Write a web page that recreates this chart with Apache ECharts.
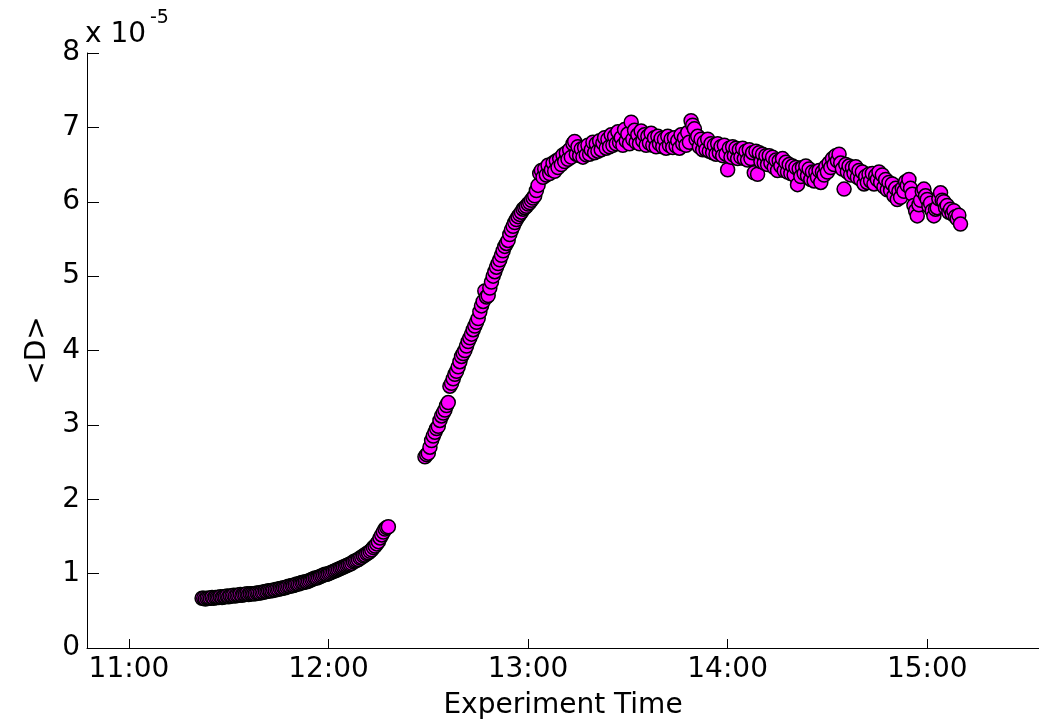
<!DOCTYPE html>
<html>
<head>
<meta charset="utf-8">
<script src="https://cdn.jsdelivr.net/npm/echarts@6/dist/echarts.min.js"></script>
<style>
  html, body { margin: 0; padding: 0; background: #ffffff; }
  #chart { width: 1039px; height: 725px; }
</style>
</head>
<body>
<div id="chart"></div>
<script>
// Mean displacement <D> (units of 1e-5), one sample every 30 s of experiment clock time.

// Early, slow-growth phase
const earlyTimes = [
  '11:22:00','11:22:30','11:23:00','11:23:30','11:24:00','11:24:30','11:25:00','11:25:30','11:26:00','11:26:30',
  '11:27:00','11:27:30','11:28:00','11:28:30','11:29:00','11:29:30','11:30:00','11:30:30','11:31:00','11:31:30',
  '11:32:00','11:32:30','11:33:00','11:33:30','11:34:00','11:34:30','11:35:00','11:35:30','11:36:00','11:36:30',
  '11:37:00','11:37:30','11:38:00','11:38:30','11:39:00','11:39:30','11:40:00','11:40:30','11:41:00','11:41:30',
  '11:42:00','11:42:30','11:43:00','11:43:30','11:44:00','11:44:30','11:45:00','11:45:30','11:46:00','11:46:30',
  '11:47:00','11:47:30','11:48:00','11:48:30','11:49:00','11:49:30','11:50:00','11:50:30','11:51:00','11:51:30',
  '11:52:00','11:52:30','11:53:00','11:53:30','11:54:00','11:54:30','11:55:00','11:55:30','11:56:00','11:56:30',
  '11:57:00','11:57:30','11:58:00','11:58:30','11:59:00','11:59:30','12:00:00','12:00:30','12:01:00','12:01:30',
  '12:02:00','12:02:30','12:03:00','12:03:30','12:04:00','12:04:30','12:05:00','12:05:30','12:06:00','12:06:30',
  '12:07:00','12:07:30','12:08:00','12:08:30','12:09:00','12:09:30','12:10:00','12:10:30','12:11:00','12:11:30',
  '12:12:00','12:12:30','12:13:00','12:13:30','12:14:00','12:14:30','12:15:00','12:15:30','12:16:00','12:16:30',
  '12:17:00','12:17:30','12:18:00'
];
const earlyD = [
  0.67, 0.67, 0.66, 0.67, 0.67, 0.67, 0.68, 0.67, 0.68, 0.68,
  0.68, 0.69, 0.68, 0.69, 0.69, 0.70, 0.69, 0.70, 0.70, 0.71,
  0.70, 0.71, 0.71, 0.72, 0.71, 0.72, 0.72, 0.73, 0.72, 0.73,
  0.73, 0.73, 0.73, 0.74, 0.74, 0.74, 0.75, 0.75, 0.76, 0.76,
  0.77, 0.77, 0.77, 0.78, 0.78, 0.79, 0.79, 0.80, 0.80, 0.81,
  0.81, 0.82, 0.83, 0.83, 0.84, 0.84, 0.85, 0.86, 0.86, 0.87,
  0.88, 0.88, 0.89, 0.89, 0.90, 0.91, 0.92, 0.93, 0.94, 0.94,
  0.95, 0.96, 0.97, 0.98, 0.99, 0.99, 1.00, 1.01, 1.02, 1.03,
  1.04, 1.05, 1.06, 1.07, 1.08, 1.09, 1.10, 1.11, 1.12, 1.13,
  1.14, 1.16, 1.17, 1.18, 1.19, 1.21, 1.22, 1.24, 1.25, 1.27,
  1.28, 1.30, 1.32, 1.35, 1.37, 1.40, 1.43, 1.48, 1.52, 1.56,
  1.60, 1.62, 1.63
];

// Steep rise, plateau and slow decline
const lateTimes = [
  '12:29:00','12:29:30','12:30:00','12:30:30','12:31:00','12:31:30','12:32:00','12:32:30','12:33:00','12:33:30',
  '12:34:00','12:34:30','12:35:00','12:35:30','12:36:00','12:36:30','12:37:00','12:37:30','12:38:00','12:38:30',
  '12:39:00','12:39:30','12:40:00','12:40:30','12:41:00','12:41:30','12:42:00','12:42:30','12:43:00','12:43:30',
  '12:44:00','12:44:30','12:45:00','12:45:30','12:46:00','12:46:30','12:47:00','12:47:30','12:48:00','12:48:30',
  '12:49:00','12:49:30','12:50:00','12:50:30','12:51:00','12:51:30','12:52:00','12:52:30','12:53:00','12:53:30',
  '12:54:00','12:54:30','12:55:00','12:55:30','12:56:00','12:56:30','12:57:00','12:57:30','12:58:00','12:58:30',
  '12:59:00','12:59:30','13:00:00','13:00:30','13:01:00','13:01:30','13:02:00','13:02:30','13:03:00','13:03:30',
  '13:04:00','13:04:30','13:05:00','13:05:30','13:06:00','13:06:30','13:07:00','13:07:30','13:08:00','13:08:30',
  '13:09:00','13:09:30','13:10:00','13:10:30','13:11:00','13:11:30','13:12:00','13:12:30','13:13:00','13:13:30',
  '13:14:00','13:14:30','13:15:00','13:15:30','13:16:00','13:16:30','13:17:00','13:17:30','13:18:00','13:18:30',
  '13:19:00','13:19:30','13:20:00','13:20:30','13:21:00','13:21:30','13:22:00','13:22:30','13:23:00','13:23:30',
  '13:24:00','13:24:30','13:25:00','13:25:30','13:26:00','13:26:30','13:27:00','13:27:30','13:28:00','13:28:30',
  '13:29:00','13:29:30','13:30:00','13:30:30','13:31:00','13:31:30','13:32:00','13:32:30','13:33:00','13:33:30',
  '13:34:00','13:34:30','13:35:00','13:35:30','13:36:00','13:36:30','13:37:00','13:37:30','13:38:00','13:38:30',
  '13:39:00','13:39:30','13:40:00','13:40:30','13:41:00','13:41:30','13:42:00','13:42:30','13:43:00','13:43:30',
  '13:44:00','13:44:30','13:45:00','13:45:30','13:46:00','13:46:30','13:47:00','13:47:30','13:48:00','13:48:30',
  '13:49:00','13:49:30','13:50:00','13:50:30','13:51:00','13:51:30','13:52:00','13:52:30','13:53:00','13:53:30',
  '13:54:00','13:54:30','13:55:00','13:55:30','13:56:00','13:56:30','13:57:00','13:57:30','13:58:00','13:58:30',
  '13:59:00','13:59:30','14:00:00','14:00:30','14:01:00','14:01:30','14:02:00','14:02:30','14:03:00','14:03:30',
  '14:04:00','14:04:30','14:05:00','14:05:30','14:06:00','14:06:30','14:07:00','14:07:30','14:08:00','14:08:30',
  '14:09:00','14:09:30','14:10:00','14:10:30','14:11:00','14:11:30','14:12:00','14:12:30','14:13:00','14:13:30',
  '14:14:00','14:14:30','14:15:00','14:15:30','14:16:00','14:16:30','14:17:00','14:17:30','14:18:00','14:18:30',
  '14:19:00','14:19:30','14:20:00','14:20:30','14:21:00','14:21:30','14:22:00','14:22:30','14:23:00','14:23:30',
  '14:24:00','14:24:30','14:25:00','14:25:30','14:26:00','14:26:30','14:27:00','14:27:30','14:28:00','14:28:30',
  '14:29:00','14:29:30','14:30:00','14:30:30','14:31:00','14:31:30','14:32:00','14:32:30','14:33:00','14:33:30',
  '14:34:00','14:34:30','14:35:00','14:35:30','14:36:00','14:36:30','14:37:00','14:37:30','14:38:00','14:38:30',
  '14:39:00','14:39:30','14:40:00','14:40:30','14:41:00','14:41:30','14:42:00','14:42:30','14:43:00','14:43:30',
  '14:44:00','14:44:30','14:45:00','14:45:30','14:46:00','14:46:30','14:47:00','14:47:30','14:48:00','14:48:30',
  '14:49:00','14:49:30','14:50:00','14:50:30','14:51:00','14:51:30','14:52:00','14:52:30','14:53:00','14:53:30',
  '14:54:00','14:54:30','14:55:00','14:55:30','14:56:00','14:56:30','14:57:00','14:57:30','14:58:00','14:58:30',
  '14:59:00','14:59:30','15:00:00','15:00:30','15:01:00','15:01:30','15:02:00','15:02:30','15:03:00','15:03:30',
  '15:04:00','15:04:30','15:05:00','15:05:30','15:06:00','15:06:30','15:07:00','15:07:30','15:08:00','15:08:30',
  '15:09:00','15:09:30','15:10:00'
];
const lateD = [
  2.57, 2.60, 2.62, 2.70, 2.79, 2.85, 2.90, 2.95, 2.98, 3.06,
  3.12, 3.16, 3.20, 3.26, 3.30, 3.52, 3.56, 3.62, 3.68, 3.72,
  3.78, 3.85, 3.92, 3.96, 4.00, 4.06, 4.12, 4.17, 4.22, 4.28,
  4.33, 4.38, 4.43, 4.52, 4.60, 4.66, 4.80, 4.72, 4.74, 4.84,
  4.92, 5.00, 5.06, 5.12, 5.17, 5.22, 5.28, 5.34, 5.40, 5.44,
  5.48, 5.56, 5.62, 5.67, 5.72, 5.76, 5.80, 5.83, 5.86, 5.90,
  5.92, 5.94, 5.97, 5.99, 6.02, 6.05, 6.08, 6.15, 6.22, 6.38,
  6.42, 6.33, 6.44, 6.36, 6.49, 6.38, 6.43, 6.52, 6.41, 6.55,
  6.46, 6.58, 6.50, 6.63, 6.54, 6.66, 6.57, 6.70, 6.60, 6.78,
  6.81, 6.64, 6.74, 6.62, 6.71, 6.60, 6.73, 6.63, 6.76, 6.64,
  6.70, 6.80, 6.66, 6.78, 6.68, 6.82, 6.70, 6.79, 6.86, 6.72,
  6.84, 6.74, 6.90, 6.76, 6.88, 6.78, 6.94, 6.80, 6.86, 6.76,
  6.97, 6.82, 6.91, 6.78, 7.07, 6.84, 6.96, 6.80, 6.90, 6.78,
  6.95, 6.82, 6.90, 6.76, 6.88, 6.79, 6.92, 6.76, 6.86, 6.74,
  6.88, 6.78, 6.85, 6.74, 6.84, 6.72, 6.88, 6.76, 6.84, 6.73,
  6.86, 6.75, 6.82, 6.72, 6.90, 6.78, 6.86, 6.76, 6.93, 6.80,
  7.09, 7.03, 6.98, 6.84, 6.88, 6.74, 6.84, 6.70, 6.80, 6.70,
  6.84, 6.68, 6.78, 6.66, 6.76, 6.64, 6.78, 6.66, 6.74, 6.62,
  6.76, 6.64, 6.43, 6.72, 6.60, 6.74, 6.62, 6.72, 6.58, 6.70,
  6.60, 6.72, 6.58, 6.68, 6.56, 6.70, 6.58, 6.66, 6.39, 6.68,
  6.37, 6.66, 6.54, 6.64, 6.52, 6.62, 6.50, 6.62, 6.52, 6.60,
  6.46, 6.56, 6.42, 6.55, 6.48, 6.58, 6.42, 6.53, 6.40, 6.50,
  6.38, 6.48, 6.36, 6.46, 6.23, 6.44, 6.34, 6.46, 6.38, 6.48,
  6.35, 6.44, 6.30, 6.40, 6.28, 6.40, 6.33, 6.42, 6.26, 6.40,
  6.36, 6.47, 6.40, 6.52, 6.46, 6.58, 6.50, 6.62, 6.55, 6.64,
  6.52, 6.44, 6.17, 6.50, 6.40, 6.48, 6.36, 6.46, 6.38, 6.47,
  6.33, 6.42, 6.30, 6.40, 6.24, 6.34, 6.26, 6.37, 6.28, 6.38,
  6.24, 6.35, 6.30, 6.40, 6.26, 6.36, 6.20, 6.30, 6.16, 6.26,
  6.15, 6.24, 6.08, 6.18, 6.03, 6.14, 6.06, 6.18, 6.14, 6.27,
  6.22, 6.30, 6.18, 6.10, 5.95, 5.88, 5.81, 5.96, 6.02, 6.14,
  6.17, 6.08, 6.03, 5.94, 5.98, 5.88, 5.81, 5.90, 5.92, 6.04,
  6.12, 6.02, 6.00, 5.92, 5.95, 5.86, 5.90, 5.84, 5.88, 5.80,
  5.77, 5.82, 5.70
];

// Hour ticks on the time axis and the range shown
const hourTicks = ['11:00', '12:00', '13:00', '14:00', '15:00'];
const timeRange = ['10:47:24', '15:33:36'];
const yMin = 0, yMax = 8, yStep = 1;

function toMinutes(s) {
  const p = s.split(':').map(Number);
  return p[0] * 60 + p[1] + (p[2] || 0) / 60;
}
function clockLabel(v) {
  const h = Math.floor(v / 60 + 1e-6);
  const m = Math.round(v - h * 60);
  return h + ':' + (m < 10 ? '0' : '') + m;
}

const points = earlyTimes.map((t, i) => [toMinutes(t), earlyD[i]])
  .concat(lateTimes.map((t, i) => [toMinutes(t), lateD[i]]));
const tickValues = hourTicks.map(toMinutes);

const FONT = 'DejaVu Sans';
const INK = '#000000';

const chart = echarts.init(document.getElementById('chart'), null, { renderer: 'canvas' });
chart.setOption({
  animation: false,
  backgroundColor: '#ffffff',
  grid: { left: 87, right: 0, top: 53, bottom: 73, containLabel: false },
  xAxis: {
    type: 'value',
    min: toMinutes(timeRange[0]),
    max: toMinutes(timeRange[1]),
    name: 'Experiment Time',
    nameLocation: 'middle',
    nameGap: 44,
    nameTextStyle: { fontFamily: FONT, fontSize: 28, color: INK },
    axisLine: { show: true, onZero: false, lineStyle: { color: INK, width: 1 } },
    axisTick: { show: true, inside: true, length: 9, customValues: tickValues, lineStyle: { color: INK, width: 1 } },
    axisLabel: { show: true, customValues: tickValues, formatter: clockLabel, margin: 8,
                 fontFamily: FONT, fontSize: 28, color: INK },
    splitLine: { show: false }
  },
  yAxis: {
    type: 'value',
    min: yMin, max: yMax, interval: yStep,
    name: '<D>',
    nameLocation: 'middle',
    nameRotate: 90,
    nameGap: 33,
    nameTextStyle: { fontFamily: FONT, fontSize: 28, color: INK },
    axisLine: { show: true, lineStyle: { color: INK, width: 1 } },
    axisTick: { show: true, inside: true, length: 12, lineStyle: { color: INK, width: 1 } },
    axisLabel: { margin: 7, fontFamily: FONT, fontSize: 28, color: INK },
    splitLine: { show: false }
  },
  graphic: [
    { type: 'text', left: 85, top: 21,
      style: { text: 'x 10', fontFamily: FONT, fontSize: 28, fill: INK } },
    { type: 'text', left: 150, top: 9,
      style: { text: '-5', fontFamily: FONT, fontSize: 19, fill: INK } }
  ],
  series: [{
    type: 'scatter',
    data: points,
    symbol: 'circle',
    symbolSize: 14,
    large: false,
    itemStyle: { color: '#ff00ff', borderColor: '#000000', borderWidth: 1.5, opacity: 1 },
    emphasis: { disabled: true }
  }]
});
</script>
</body>
</html>
